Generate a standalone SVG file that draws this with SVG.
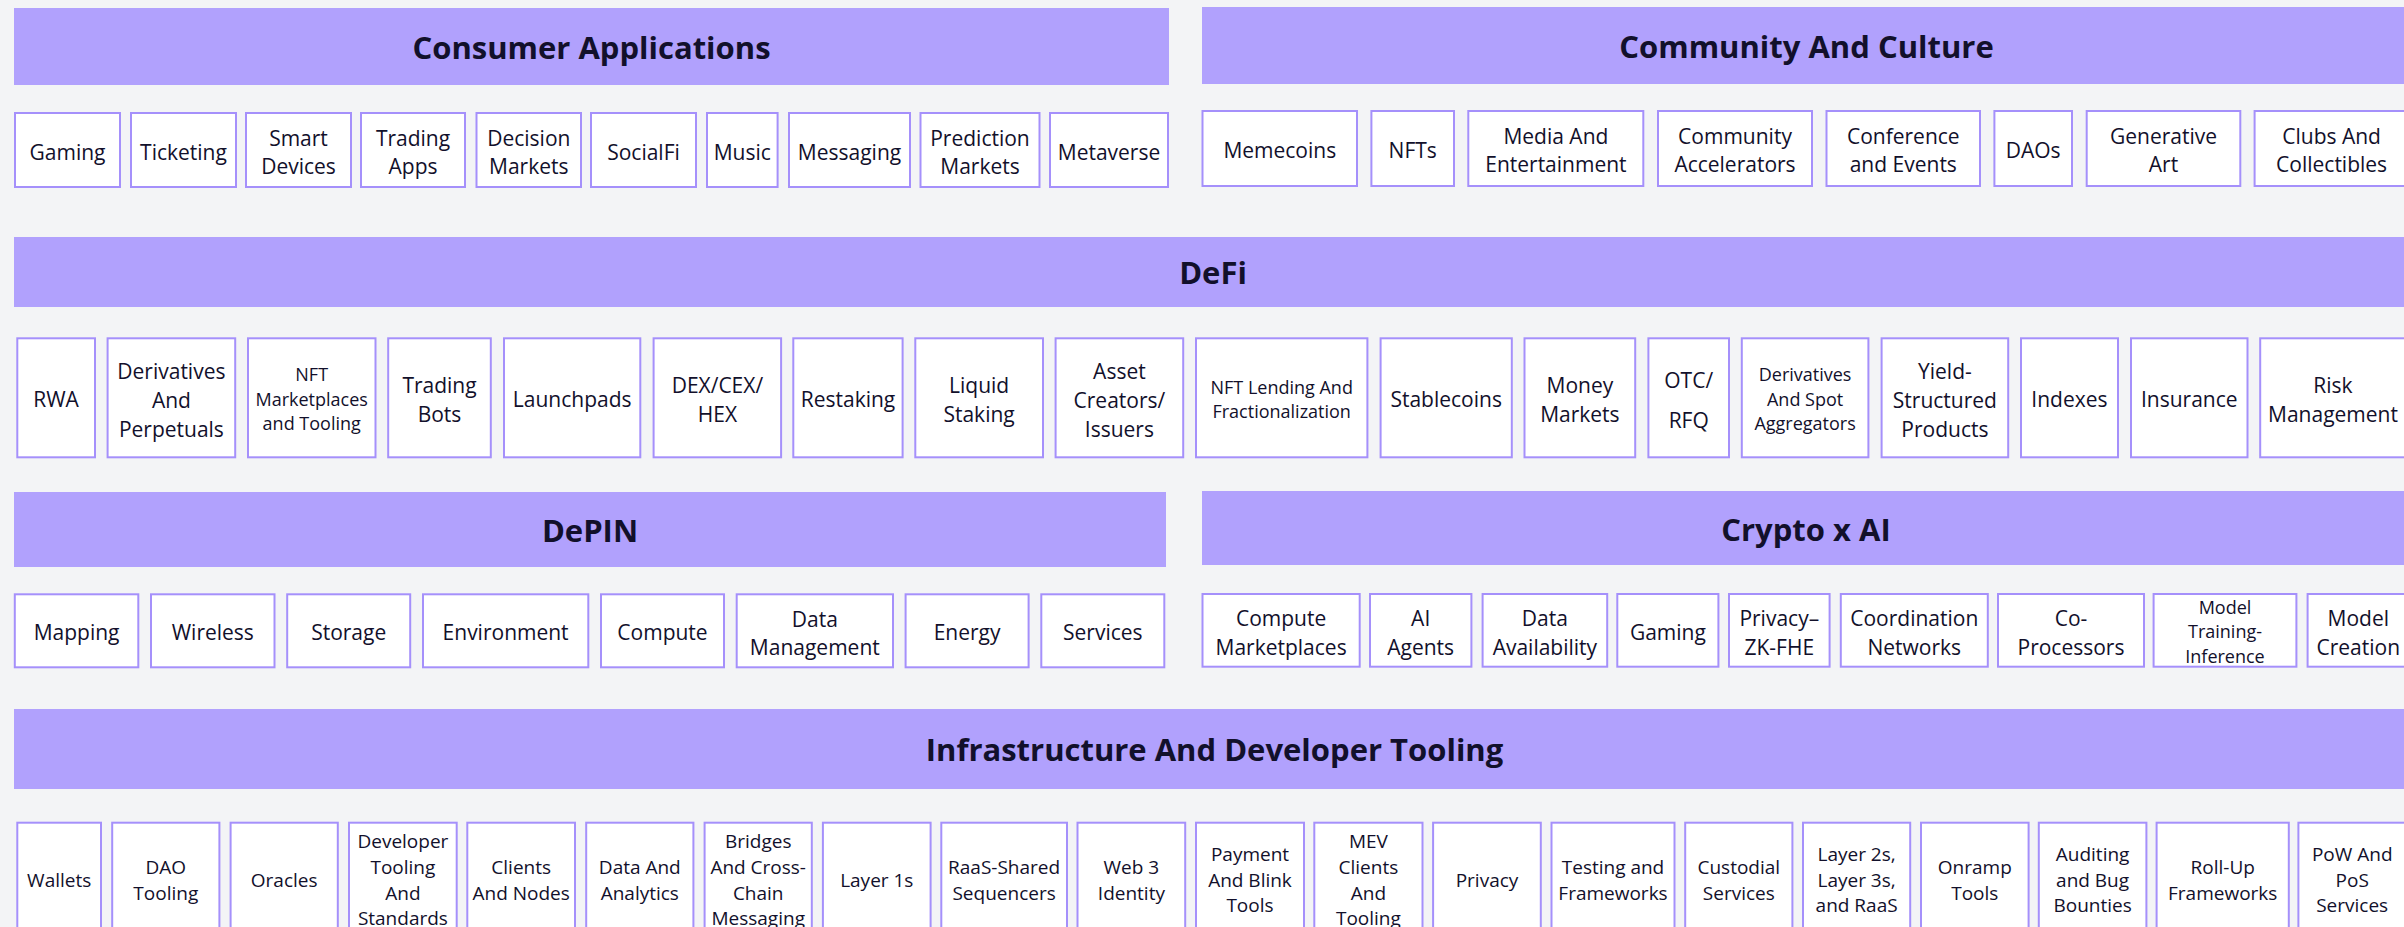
<svg xmlns="http://www.w3.org/2000/svg" width="2404" height="927" viewBox="0 0 2404 927">
<style>
.bg{fill:#f3f4f6}
.bar{fill:#b1a1fd}
.box{fill:#ffffff;stroke:#a590fb;stroke-width:2}
.h{font-family:"Open Sans","Liberation Sans",sans-serif;font-weight:700;font-size:31px;fill:#12102b;text-anchor:middle}
.t{font-family:"Open Sans","Liberation Sans",sans-serif;font-size:21px;fill:#12102b;text-anchor:middle}
.s{font-family:"Open Sans","Liberation Sans",sans-serif;font-size:18px;fill:#12102b;text-anchor:middle}
.i{font-family:"Open Sans","Liberation Sans",sans-serif;font-size:19px;fill:#12102b;text-anchor:middle}
</style>
<rect class="bg" x="0" y="0" width="2404" height="927"/>

<!-- Consumer Applications -->
<g id="consumer-applications">
<rect class="bar" x="14" y="8" width="1155" height="77"/>
<text class="h" x="591.5" y="59">Consumer Applications</text>
</g>
<g id="ca-gaming"><rect class="box" x="15" y="113" width="105" height="74"/><text class="t" x="67.5" y="159.5">Gaming</text></g>
<g id="ca-ticketing"><rect class="box" x="131" y="113" width="105" height="74"/><text class="t" x="183.5" y="159.5">Ticketing</text></g>
<g id="ca-smart-devices"><rect class="box" x="246" y="113" width="105" height="74"/><text class="t"><tspan x="298.5" y="145.5">Smart</tspan><tspan x="298.5" y="173.5">Devices</tspan></text></g>
<g id="ca-trading-apps"><rect class="box" x="361" y="113" width="104" height="74"/><text class="t"><tspan x="413" y="145.5">Trading</tspan><tspan x="413" y="173.5">Apps</tspan></text></g>
<g id="ca-decision-markets"><rect class="box" x="476.5" y="113" width="104.5" height="74"/><text class="t"><tspan x="528.8" y="145.5">Decision</tspan><tspan x="528.8" y="173.5">Markets</tspan></text></g>
<g id="ca-socialfi"><rect class="box" x="591" y="113" width="105" height="74"/><text class="t" x="643.5" y="159.5">SocialFi</text></g>
<g id="ca-music"><rect class="box" x="707" y="113" width="70.6" height="74"/><text class="t" x="742.3" y="159.5">Music</text></g>
<g id="ca-messaging"><rect class="box" x="789" y="113" width="121" height="74"/><text class="t" x="849.5" y="159.5">Messaging</text></g>
<g id="ca-prediction-markets"><rect class="box" x="920.5" y="113" width="119" height="74"/><text class="t"><tspan x="980" y="145.5">Prediction</tspan><tspan x="980" y="173.5">Markets</tspan></text></g>
<g id="ca-metaverse"><rect class="box" x="1050" y="113" width="118" height="74"/><text class="t" x="1109" y="159.5">Metaverse</text></g>

<!-- Community And Culture -->
<g id="community-and-culture">
<rect class="bar" x="1202" y="7" width="1210" height="77"/>
<text class="h" x="1806.5" y="58">Community And Culture</text>
</g>
<g id="cc-memecoins"><rect class="box" x="1202.5" y="111" width="154.5" height="75"/><text class="t" x="1279.8" y="158">Memecoins</text></g>
<g id="cc-nfts"><rect class="box" x="1371.4" y="111" width="82.6" height="75"/><text class="t" x="1412.7" y="158">NFTs</text></g>
<g id="cc-media"><rect class="box" x="1468.3" y="111" width="175" height="75"/><text class="t"><tspan x="1555.9" y="144">Media And</tspan><tspan x="1555.9" y="172">Entertainment</tspan></text></g>
<g id="cc-community-accelerators"><rect class="box" x="1658" y="111" width="154" height="75"/><text class="t"><tspan x="1735" y="144">Community</tspan><tspan x="1735" y="172">Accelerators</tspan></text></g>
<g id="cc-conference"><rect class="box" x="1826.5" y="111" width="153.5" height="75"/><text class="t"><tspan x="1903.3" y="144">Conference</tspan><tspan x="1903.3" y="172">and Events</tspan></text></g>
<g id="cc-daos"><rect class="box" x="1994.4" y="111" width="77.6" height="75"/><text class="t" x="2033.2" y="158">DAOs</text></g>
<g id="cc-generative-art"><rect class="box" x="2086.7" y="111" width="153.6" height="75"/><text class="t"><tspan x="2163.5" y="144">Generative</tspan><tspan x="2163.5" y="172">Art</tspan></text></g>
<g id="cc-clubs"><rect class="box" x="2254.6" y="111" width="154" height="75"/><text class="t"><tspan x="2331.6" y="144">Clubs And</tspan><tspan x="2331.6" y="172">Collectibles</tspan></text></g>

<!-- DeFi -->
<g id="defi">
<rect class="bar" x="14" y="237" width="2398" height="70"/>
<text class="h" x="1213" y="284">DeFi</text>
</g>
<g id="df-rwa"><rect class="box" x="17.3" y="338.3" width="77.7" height="119"/><text class="t" x="56.1" y="407.3">RWA</text></g>
<g id="df-derivatives-perps"><rect class="box" x="107.6" y="338.3" width="127.6" height="119"/><text class="t"><tspan x="171.4" y="379">Derivatives</tspan><tspan x="171.4" y="408">And</tspan><tspan x="171.4" y="437">Perpetuals</tspan></text></g>
<g id="df-nft-marketplaces"><rect class="box" x="248" y="338.3" width="127.5" height="119"/><text class="s"><tspan x="311.7" y="381.3">NFT</tspan><tspan x="311.7" y="405.8">Marketplaces</tspan><tspan x="311.7" y="430.3">and Tooling</tspan></text></g>
<g id="df-trading-bots"><rect class="box" x="388.2" y="338.3" width="102.6" height="119"/><text class="t"><tspan x="439.5" y="393.3">Trading</tspan><tspan x="439.5" y="422.3">Bots</tspan></text></g>
<g id="df-launchpads"><rect class="box" x="504" y="338.3" width="136.3" height="119"/><text class="t" x="572.2" y="407.3">Launchpads</text></g>
<g id="df-dex"><rect class="box" x="653.6" y="338.3" width="127.5" height="119"/><text class="t"><tspan x="717.4" y="393.3">DEX/CEX/</tspan><tspan x="717.4" y="422.3">HEX</tspan></text></g>
<g id="df-restaking"><rect class="box" x="793.3" y="338.3" width="109.3" height="119"/><text class="t" x="848" y="407.3">Restaking</text></g>
<g id="df-liquid-staking"><rect class="box" x="915.3" y="338.3" width="127.7" height="119"/><text class="t"><tspan x="979.1" y="393.3">Liquid</tspan><tspan x="979.1" y="422.3">Staking</tspan></text></g>
<g id="df-asset-creators"><rect class="box" x="1055.6" y="338.3" width="127.6" height="119"/><text class="t"><tspan x="1119.4" y="379">Asset</tspan><tspan x="1119.4" y="408">Creators/</tspan><tspan x="1119.4" y="437">Issuers</tspan></text></g>
<g id="df-nft-lending"><rect class="box" x="1196" y="338.3" width="171.4" height="119"/><text class="s"><tspan x="1281.7" y="393.5">NFT Lending And</tspan><tspan x="1281.7" y="418">Fractionalization</tspan></text></g>
<g id="df-stablecoins"><rect class="box" x="1380.6" y="338.3" width="131.2" height="119"/><text class="t" x="1446.2" y="407.3">Stablecoins</text></g>
<g id="df-money-markets"><rect class="box" x="1524.5" y="338.3" width="110.7" height="119"/><text class="t"><tspan x="1579.9" y="393.3">Money</tspan><tspan x="1579.9" y="422.3">Markets</tspan></text></g>
<g id="df-otc-rfq"><rect class="box" x="1648.4" y="338.3" width="80.6" height="119"/><text class="t"><tspan x="1688.7" y="388.3">OTC/</tspan><tspan x="1688.7" y="427.5">RFQ</tspan></text></g>
<g id="df-aggregators"><rect class="box" x="1741.8" y="338.3" width="126.6" height="119"/><text class="s"><tspan x="1805.1" y="381.3">Derivatives</tspan><tspan x="1805.1" y="405.8">And Spot</tspan><tspan x="1805.1" y="430.3">Aggregators</tspan></text></g>
<g id="df-yield"><rect class="box" x="1881.6" y="338.3" width="126.6" height="119"/><text class="t"><tspan x="1944.9" y="379">Yield-</tspan><tspan x="1944.9" y="408">Structured</tspan><tspan x="1944.9" y="437">Products</tspan></text></g>
<g id="df-indexes"><rect class="box" x="2021" y="338.3" width="97" height="119"/><text class="t" x="2069.4" y="407.3">Indexes</text></g>
<g id="df-insurance"><rect class="box" x="2131" y="338.3" width="116.5" height="119"/><text class="t" x="2189.3" y="407.3">Insurance</text></g>
<g id="df-risk"><rect class="box" x="2260.2" y="338.3" width="146" height="119"/><text class="t"><tspan x="2333" y="393.3">Risk</tspan><tspan x="2333" y="422.3">Management</tspan></text></g>

<!-- DePIN -->
<g id="depin">
<rect class="bar" x="14" y="492" width="1152" height="75"/>
<text class="h" x="590" y="541.7">DePIN</text>
</g>
<g id="dp-mapping"><rect class="box" x="14.8" y="594.3" width="123.5" height="73"/><text class="t" x="76.6" y="640">Mapping</text></g>
<g id="dp-wireless"><rect class="box" x="151" y="594.3" width="123.5" height="73"/><text class="t" x="212.8" y="640">Wireless</text></g>
<g id="dp-storage"><rect class="box" x="287.2" y="594.3" width="123" height="73"/><text class="t" x="348.7" y="640">Storage</text></g>
<g id="dp-environment"><rect class="box" x="423" y="594.3" width="165.3" height="73"/><text class="t" x="505.6" y="640">Environment</text></g>
<g id="dp-compute"><rect class="box" x="601" y="594.3" width="123" height="73"/><text class="t" x="662.5" y="640">Compute</text></g>
<g id="dp-data-management"><rect class="box" x="736.7" y="594.3" width="156.3" height="73"/><text class="t"><tspan x="814.8" y="626.5">Data</tspan><tspan x="814.8" y="655">Management</tspan></text></g>
<g id="dp-energy"><rect class="box" x="905.6" y="594.3" width="123" height="73"/><text class="t" x="967.1" y="640">Energy</text></g>
<g id="dp-services"><rect class="box" x="1041.3" y="594.3" width="123" height="73"/><text class="t" x="1102.8" y="640">Services</text></g>

<!-- Crypto x AI -->
<g id="crypto-x-ai">
<rect class="bar" x="1202" y="491" width="1210" height="74"/>
<text class="h" x="1806" y="540.5">Crypto x AI</text>
</g>
<g id="ai-compute-marketplaces"><rect class="box" x="1202.5" y="594" width="157.2" height="72.7"/><text class="t"><tspan x="1281.1" y="626">Compute</tspan><tspan x="1281.1" y="654.5">Marketplaces</tspan></text></g>
<g id="ai-agents"><rect class="box" x="1370" y="594" width="101.4" height="72.7"/><text class="t"><tspan x="1420.7" y="626">AI</tspan><tspan x="1420.7" y="654.5">Agents</tspan></text></g>
<g id="ai-data-availability"><rect class="box" x="1482.6" y="594" width="124.6" height="72.7"/><text class="t"><tspan x="1544.9" y="626">Data</tspan><tspan x="1544.9" y="654.5">Availability</tspan></text></g>
<g id="ai-gaming"><rect class="box" x="1617.3" y="594" width="101.1" height="72.7"/><text class="t" x="1667.9" y="639.5">Gaming</text></g>
<g id="ai-privacy"><rect class="box" x="1729" y="594" width="100.6" height="72.7"/><text class="t"><tspan x="1779.3" y="626">Privacy–</tspan><tspan x="1779.3" y="654.5">ZK-FHE</tspan></text></g>
<g id="ai-coordination"><rect class="box" x="1840.8" y="594" width="147" height="72.7"/><text class="t"><tspan x="1914.3" y="626">Coordination</tspan><tspan x="1914.3" y="654.5">Networks</tspan></text></g>
<g id="ai-coprocessors"><rect class="box" x="1998" y="594" width="146" height="72.7"/><text class="t"><tspan x="2071" y="626">Co-</tspan><tspan x="2071" y="654.5">Processors</tspan></text></g>
<g id="ai-model-training"><rect class="box" x="2153.6" y="594" width="142.8" height="72.7"/><text class="s"><tspan x="2225" y="613.8">Model</tspan><tspan x="2225" y="638.3">Training-</tspan><tspan x="2225" y="662.8">Inference</tspan></text></g>
<g id="ai-model-creation"><rect class="box" x="2307.6" y="594" width="101.4" height="72.7"/><text class="t"><tspan x="2358.3" y="626">Model</tspan><tspan x="2358.3" y="654.5">Creation</tspan></text></g>

<!-- Infrastructure And Developer Tooling -->
<g id="infrastructure">
<rect class="bar" x="14" y="709" width="2398" height="80"/>
<text class="h" x="1214.5" y="761">Infrastructure And Developer Tooling</text>
</g>
<g id="in-wallets"><rect class="box" x="17.3" y="822.7" width="83.7" height="112"/><text class="i" x="59.2" y="886.7">Wallets</text></g>
<g id="in-dao-tooling"><rect class="box" x="112.2" y="822.7" width="107.2" height="112"/><text class="i"><tspan x="165.8" y="873.9">DAO</tspan><tspan x="165.8" y="899.5">Tooling</tspan></text></g>
<g id="in-oracles"><rect class="box" x="230.6" y="822.7" width="107.2" height="112"/><text class="i" x="284.2" y="886.7">Oracles</text></g>
<g id="in-dev-tooling"><rect class="box" x="349" y="822.7" width="107.7" height="112"/><text class="i"><tspan x="402.9" y="848.3">Developer</tspan><tspan x="402.9" y="873.9">Tooling</tspan><tspan x="402.9" y="899.5">And</tspan><tspan x="402.9" y="925.1">Standards</tspan></text></g>
<g id="in-clients-nodes"><rect class="box" x="467.3" y="822.7" width="107.7" height="112"/><text class="i"><tspan x="521.2" y="873.9">Clients</tspan><tspan x="521.2" y="899.5">And Nodes</tspan></text></g>
<g id="in-data-analytics"><rect class="box" x="586.2" y="822.7" width="107.2" height="112"/><text class="i"><tspan x="639.8" y="873.9">Data And</tspan><tspan x="639.8" y="899.5">Analytics</tspan></text></g>
<g id="in-bridges"><rect class="box" x="704.6" y="822.7" width="107.2" height="112"/><text class="i"><tspan x="758.2" y="848.3">Bridges</tspan><tspan x="758.2" y="873.9">And Cross-</tspan><tspan x="758.2" y="899.5">Chain</tspan><tspan x="758.2" y="925.1">Messaging</tspan></text></g>
<g id="in-layer1s"><rect class="box" x="822.9" y="822.7" width="107.7" height="112"/><text class="i" x="876.8" y="886.7">Layer 1s</text></g>
<g id="in-raas-shared"><rect class="box" x="941.3" y="822.7" width="125.7" height="112"/><text class="i"><tspan x="1004.1" y="873.9">RaaS-Shared</tspan><tspan x="1004.1" y="899.5">Sequencers</tspan></text></g>
<g id="in-web3-identity"><rect class="box" x="1077.5" y="822.7" width="107.7" height="112"/><text class="i"><tspan x="1131.4" y="873.9">Web 3</tspan><tspan x="1131.4" y="899.5">Identity</tspan></text></g>
<g id="in-payment"><rect class="box" x="1196" y="822.7" width="108" height="112"/><text class="i"><tspan x="1250" y="861.1">Payment</tspan><tspan x="1250" y="886.7">And Blink</tspan><tspan x="1250" y="912.3">Tools</tspan></text></g>
<g id="in-mev"><rect class="box" x="1314.3" y="822.7" width="108.2" height="112"/><text class="i"><tspan x="1368.4" y="848.3">MEV</tspan><tspan x="1368.4" y="873.9">Clients</tspan><tspan x="1368.4" y="899.5">And</tspan><tspan x="1368.4" y="925.1">Tooling</tspan></text></g>
<g id="in-privacy"><rect class="box" x="1433.1" y="822.7" width="107.7" height="112"/><text class="i" x="1487" y="886.7">Privacy</text></g>
<g id="in-testing"><rect class="box" x="1551.5" y="822.7" width="123" height="112"/><text class="i"><tspan x="1613" y="873.9">Testing and</tspan><tspan x="1613" y="899.5">Frameworks</tspan></text></g>
<g id="in-custodial"><rect class="box" x="1685.2" y="822.7" width="107.2" height="112"/><text class="i"><tspan x="1738.8" y="873.9">Custodial</tspan><tspan x="1738.8" y="899.5">Services</tspan></text></g>
<g id="in-layer2s"><rect class="box" x="1803" y="822.7" width="107.2" height="112"/><text class="i"><tspan x="1856.6" y="861.1">Layer 2s,</tspan><tspan x="1856.6" y="886.7">Layer 3s,</tspan><tspan x="1856.6" y="912.3">and RaaS</tspan></text></g>
<g id="in-onramp"><rect class="box" x="1921" y="822.7" width="107.6" height="112"/><text class="i"><tspan x="1974.8" y="873.9">Onramp</tspan><tspan x="1974.8" y="899.5">Tools</tspan></text></g>
<g id="in-auditing"><rect class="box" x="2038.8" y="822.7" width="107.6" height="112"/><text class="i"><tspan x="2092.6" y="861.1">Auditing</tspan><tspan x="2092.6" y="886.7">and Bug</tspan><tspan x="2092.6" y="912.3">Bounties</tspan></text></g>
<g id="in-rollup"><rect class="box" x="2156.6" y="822.7" width="132.2" height="112"/><text class="i"><tspan x="2222.7" y="873.9">Roll-Up</tspan><tspan x="2222.7" y="899.5">Frameworks</tspan></text></g>
<g id="in-pow-pos"><rect class="box" x="2298.4" y="822.7" width="107.6" height="112"/><text class="i"><tspan x="2352.2" y="861.1">PoW And</tspan><tspan x="2352.2" y="886.7">PoS</tspan><tspan x="2352.2" y="912.3">Services</tspan></text></g>

<g id="connectors"></g>
</svg>
